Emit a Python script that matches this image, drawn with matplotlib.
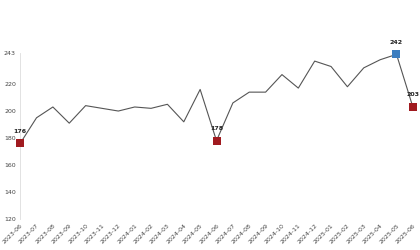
import matplotlib
matplotlib.use('Agg')
import matplotlib.pyplot as plt

# monthly series, 2023-06 .. 2025-06
months = ['2023-06', '2023-07', '2023-08', '2023-09', '2023-10', '2023-11',
          '2023-12', '2024-01', '2024-02', '2024-03', '2024-04', '2024-05',
          '2024-06', '2024-07', '2024-08', '2024-09', '2024-10', '2024-11',
          '2024-12', '2025-01', '2025-02', '2025-03', '2025-04', '2025-05',
          '2025-06']
values = [176, 195, 203, 191, 204, 202, 200, 203, 202, 205, 192, 216,
          178, 206, 214, 214, 227, 217, 237, 233, 218, 232, 238, 242, 203]

# highlighted points (index into months)
low_idx = [0, 12, 24]
high_idx = [23]

y_ticks = [120, 140, 160, 180, 200, 220, 243]

RED = '#a01a1f'
BLUE = '#3d7ebf'

fig = plt.figure(figsize=(4.2, 2.5), dpi=100)
ax = fig.add_axes([0.048, 0.124, 0.935, 0.664])

x = list(range(len(months)))
ax.plot(x, values, color='#555555', linewidth=0.8, zorder=2)

ax.scatter([x[i] for i in low_idx], [values[i] for i in low_idx],
           marker='s', s=40, color=RED, zorder=3, linewidths=0, clip_on=False)
ax.scatter([x[i] for i in high_idx], [values[i] for i in high_idx],
           marker='s', s=32, color=BLUE, zorder=3, linewidths=0, clip_on=False)

for i in low_idx + high_idx:
    ax.annotate(str(values[i]), (x[i], values[i]), xytext=(0, 7),
                textcoords='offset points', ha='center', va='bottom',
                fontsize=4.5, fontweight='bold', color='#222222')

ax.set_xlim(0, len(months) - 1)
ax.set_ylim(120, 243)
ax.set_yticks(y_ticks)
ax.set_yticklabels([str(t) for t in y_ticks], fontsize=4.5, color='#444444')
ax.set_xticks(x)
ax.set_xticklabels(months, rotation=45, ha='right', rotation_mode='anchor',
                   fontsize=4.5, color='#444444')
ax.tick_params(axis='both', length=0, pad=3)

for side in ['top', 'right', 'bottom']:
    ax.spines[side].set_visible(False)
ax.spines['left'].set_color('#dddddd')
ax.spines['left'].set_linewidth(0.6)

fig.savefig('out.png', dpi=100)
